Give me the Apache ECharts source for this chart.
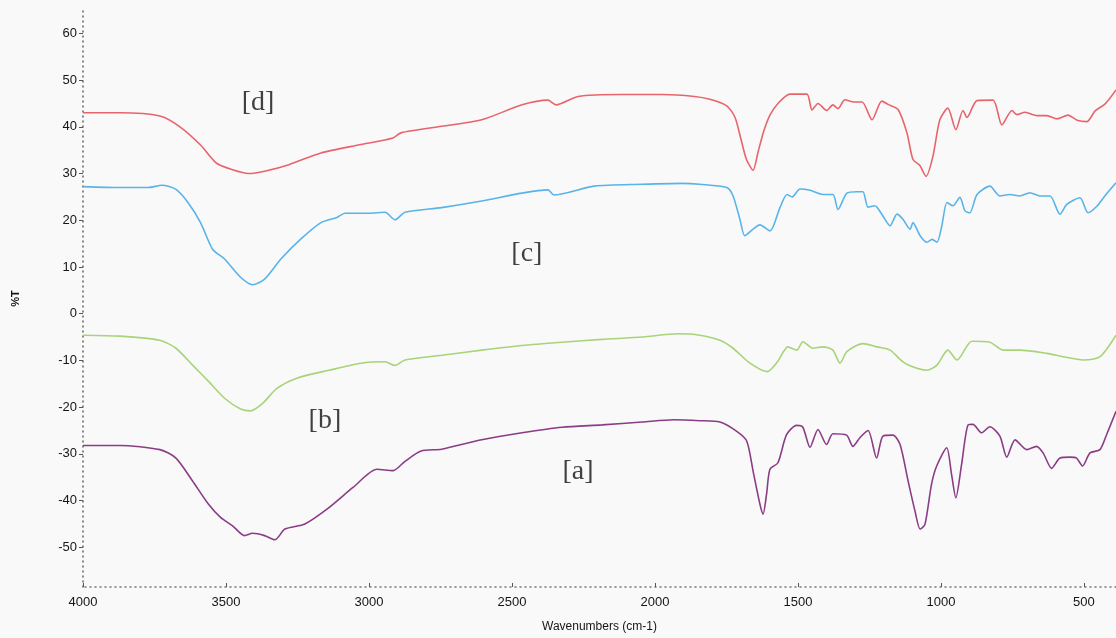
<!DOCTYPE html>
<html>
<head>
<meta charset="UTF-8">
<title>FTIR</title>
<script src="https://cdn.jsdelivr.net/npm/echarts@6/dist/echarts.min.js"></script>
<style>
  html, body { margin: 0; padding: 0; background: #f9f9f9; }
  #chart { width: 1116px; height: 638px; }
</style>
</head>
<body>
<div id="chart"></div>
<script>
// tick labels
var xTicks = [4000, 3500, 3000, 2500, 2000, 1500, 1000, 500];
var yTicks = [-50, -40, -30, -20, -10, 0, 10, 20, 30, 40, 50, 60];

// spectra: [wavenumber, %T]
var curveD = [
  [4000, 43.0], [3871, 43.0], [3731, 42.3], [3661, 40.0], [3589, 36.1], [3533, 32.2],
  [3477, 30.8], [3421, 30.0], [3365, 30.5], [3280, 31.9], [3168, 34.4], [3028, 36.2],
  [2916, 37.6], [2888, 38.7], [2746, 40.1], [2606, 41.5], [2465, 44.7], [2374, 45.7],
  [2346, 44.7], [2269, 46.5], [2115, 46.9], [1975, 46.9], [1862, 46.5], [1808, 45.9],
  [1749, 44.5], [1720, 42.0], [1700, 37.5], [1680, 33.0], [1657, 30.7], [1640, 34.5],
  [1620, 39.0], [1598, 42.5], [1570, 45.0], [1528, 47.0], [1469, 47.0], [1451, 43.6],
  [1430, 45.0], [1400, 43.5], [1378, 44.7], [1360, 43.9], [1336, 45.8], [1305, 45.3],
  [1276, 45.3], [1241, 41.5], [1207, 45.5], [1185, 44.8], [1150, 43.7], [1119, 38.7],
  [1098, 33.0], [1075, 31.8], [1052, 29.4], [1028, 33.7], [1004, 41.5], [976, 44.0],
  [948, 39.4], [923, 43.5], [909, 42.0], [874, 45.6], [818, 45.7], [787, 40.4],
  [752, 43.5], [735, 42.6], [706, 43.1], [664, 42.4], [630, 42.4], [594, 41.7],
  [556, 42.5], [524, 41.4], [490, 41.1], [461, 43.4], [426, 44.9], [388, 47.9]
];
var curveC = [
  [4000, 27.2], [3871, 27.0], [3771, 27.0], [3724, 27.5], [3675, 26.6], [3633, 23.8],
  [3589, 19.5], [3547, 13.8], [3505, 11.7], [3449, 7.8], [3407, 6.2], [3365, 7.4],
  [3308, 11.7], [3238, 16.0], [3168, 19.5], [3112, 20.6], [3084, 21.5], [3000, 21.5],
  [2944, 21.7], [2909, 20.1], [2874, 21.7], [2746, 22.7], [2606, 24.1], [2465, 25.8],
  [2374, 26.5], [2353, 25.4], [2213, 27.3], [2045, 27.7], [1906, 27.9], [1843, 27.7],
  [1749, 27.0], [1727, 25.2], [1703, 20.2], [1686, 16.7], [1657, 18.1], [1633, 19.0],
  [1598, 17.7], [1563, 22.7], [1538, 25.5], [1520, 25.0], [1493, 26.7], [1458, 26.4],
  [1413, 25.5], [1378, 25.5], [1360, 22.3], [1329, 25.8], [1294, 26.1], [1273, 26.1],
  [1255, 22.8], [1231, 23.1], [1207, 21.3], [1178, 18.8], [1154, 21.3], [1133, 20.2],
  [1108, 18.1], [1098, 19.5], [1073, 16.7], [1049, 15.3], [1031, 15.9], [1014, 15.3],
  [997, 18.8], [979, 23.8], [958, 23.1], [934, 24.9], [916, 22.0], [899, 21.6],
  [874, 25.5], [829, 27.3], [794, 25.2], [759, 25.5], [724, 25.2], [689, 25.9],
  [654, 25.2], [619, 25.2], [584, 21.3], [560, 23.4], [514, 24.8], [486, 21.6],
  [455, 23.0], [427, 25.2], [388, 28.0]
];
var curveB = [
  [4000, -4.6], [3871, -4.8], [3731, -5.7], [3675, -7.4], [3617, -11.0], [3561, -14.5],
  [3505, -18.1], [3449, -20.4], [3414, -20.8], [3372, -19.2], [3322, -16.0], [3252, -13.8],
  [3140, -12.1], [3028, -10.6], [2944, -10.3], [2909, -11.1], [2874, -9.9], [2746, -8.9],
  [2606, -7.8], [2465, -6.8], [2325, -6.1], [2185, -5.5], [2045, -5.0], [1920, -4.3],
  [1843, -4.6], [1773, -5.7], [1727, -7.4], [1668, -10.6], [1608, -12.4], [1573, -10.4],
  [1535, -7.1], [1504, -7.8], [1483, -6.0], [1448, -7.4], [1413, -7.1], [1378, -7.8],
  [1353, -10.6], [1329, -8.1], [1273, -6.4], [1224, -7.1], [1178, -7.8], [1133, -10.3],
  [1084, -11.7], [1049, -12.1], [1014, -11.0], [976, -7.8], [944, -9.9], [892, -5.9],
  [829, -6.1], [783, -7.8], [724, -7.8], [629, -8.5], [573, -9.2], [503, -9.9],
  [444, -9.2], [388, -4.6]
];
var curveA = [
  [4000, -28.2], [3871, -28.2], [3731, -29.1], [3675, -30.9], [3617, -35.8], [3561, -40.8],
  [3519, -43.6], [3477, -45.4], [3435, -47.5], [3407, -47.0], [3365, -47.5], [3329, -48.4],
  [3294, -46.1], [3224, -45.0], [3140, -41.5], [3056, -37.2], [2972, -33.3], [2916, -33.6],
  [2874, -31.6], [2818, -29.4], [2746, -29.0], [2606, -27.0], [2465, -25.5], [2325, -24.3],
  [2185, -23.8], [2045, -23.2], [1934, -22.7], [1843, -22.9], [1773, -23.2], [1714, -25.2],
  [1679, -27.3], [1657, -33.7], [1633, -40.8], [1622, -42.9], [1610, -38.7], [1598, -33.3],
  [1570, -31.9], [1540, -25.9], [1505, -23.9], [1483, -24.3], [1458, -28.6], [1430, -24.8],
  [1400, -28.0], [1378, -25.7], [1330, -26.0], [1308, -28.4], [1283, -26.5], [1255, -25.0],
  [1225, -30.9], [1203, -26.2], [1168, -26.0], [1143, -28.0], [1115, -35.8], [1091, -42.2],
  [1073, -46.1], [1056, -45.1], [1033, -36.5], [1015, -32.6], [980, -28.7], [963, -34.4],
  [948, -39.4], [928, -32.3], [905, -23.8], [888, -23.7], [858, -25.5], [829, -24.2],
  [794, -26.2], [770, -30.7], [741, -27.0], [700, -29.1], [666, -28.4], [643, -29.8],
  [613, -33.1], [584, -30.9], [549, -30.7], [526, -30.9], [505, -32.6], [479, -29.8],
  [444, -29.1], [421, -25.9], [388, -20.9]
];

// curve tags placed in data coordinates
var tags = [
  { name: '[d]', value: [3388, 45.1] },
  { name: '[c]', value: [2448, 12.8] },
  { name: '[b]', value: [3154, -22.8] },
  { name: '[a]', value: [2269, -33.8] }
];

var chart = echarts.init(document.getElementById('chart'));

function line(name, data, color) {
  return {
    name: name, type: 'line', data: data, showSymbol: false, smooth: 0.25,
    lineStyle: { color: color, width: 1.6 }, silent: true
  };
}

var tickFont = { fontFamily: 'Liberation Sans', fontSize: 13, color: '#151515' };

var option = {
  backgroundColor: '#f9f9f9',
  animation: false,
  grid: { left: 83, right: 0, top: 10, bottom: 48 },
  xAxis: {
    type: 'value', inverse: true, min: 388, max: 4000,
    name: 'Wavenumbers (cm-1)', nameLocation: 'middle', nameGap: 34,
    nameTextStyle: { fontFamily: 'Liberation Sans', fontSize: 12, color: '#151515' },
    axisLine: { show: true, onZero: false, lineStyle: { color: '#777', type: [1, 4], width: 1.5 } },
    axisTick: { show: true, inside: true, length: 4, customValues: xTicks, lineStyle: { color: '#555' } },
    axisLabel: Object.assign({ customValues: xTicks, margin: 9, formatter: function (v) { return String(v); } }, tickFont),
    splitLine: { show: false }
  },
  yAxis: {
    type: 'value', min: -58.5, max: 65,
    name: '%T', nameLocation: 'middle', nameGap: 62, nameRotate: 90,
    nameTextStyle: { fontFamily: 'Liberation Sans', fontSize: 11, color: '#151515', fontWeight: 'bold' },
    axisLine: { show: true, onZero: false, lineStyle: { color: '#666', type: [1, 4], width: 1.5 } },
    axisTick: { show: true, length: 4, customValues: yTicks, lineStyle: { color: '#555' } },
    axisLabel: Object.assign({ customValues: yTicks, margin: 6, formatter: function (v) { return String(v); } }, tickFont),
    splitLine: { show: false }
  },
  series: [
    line('d', curveD, '#e8646c'),
    line('c', curveC, '#58b4e8'),
    line('b', curveB, '#a8d378'),
    line('a', curveA, '#8b3c86'),
    {
      type: 'scatter', data: tags, symbolSize: 0, silent: true,
      label: {
        show: true, position: 'inside', formatter: '{b}',
        fontFamily: 'Liberation Serif', fontSize: 28, color: '#111'
      }
    }
  ]
};
chart.setOption(option);
</script>
</body>
</html>
